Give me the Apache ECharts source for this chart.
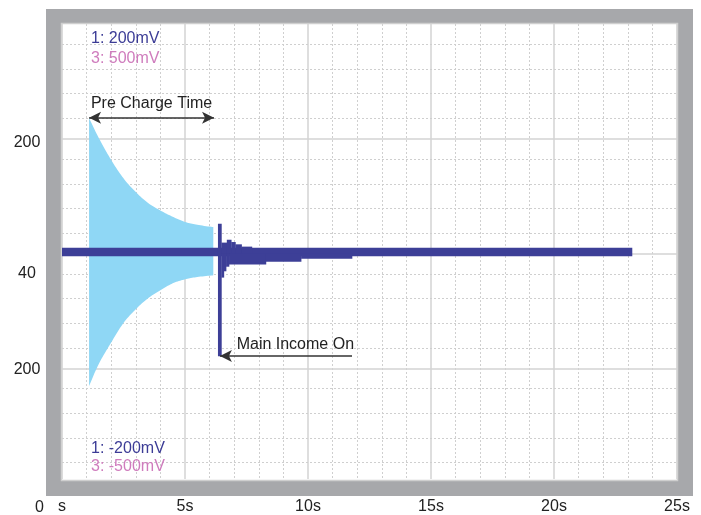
<!DOCTYPE html>
<html><head><meta charset="utf-8">
<script src="https://cdn.jsdelivr.net/npm/echarts@6/dist/echarts.min.js"></script>
<style>html,body{margin:0;padding:0;background:#fff}#c{width:701px;height:515px}</style>
</head><body><div id="c"></div>
<script>
// ---- axis labels ----
const xTickValues = [0, 5, 10, 15, 20, 25];
const xTickLabels = ['s', '5s', '10s', '15s', '20s', '25s'];
const xOriginLabel = '0';
const yTickValues = [194, -35, -203];
const yTickLabels = ['200', '40', '200'];
const ch1Scale = ['1: 200mV', '1: -200mV'];
const ch3Scale = ['3: 500mV', '3: -500mV'];

// ---- channel 3 envelope (light blue) ----
const envT  = [1.1, 1.5, 2.0, 2.5, 3.0, 3.5, 4.0, 4.5, 5.0, 5.5, 6.15];
const envHi = [236, 201, 163, 131, 107, 88, 75, 64, 55, 50, 46];
const envLo = [-231, -192, -155, -121, -97, -78, -64, -52, -45, -41, -38];

// ---- channel 1 (dark blue) ----
const ch1BandT = [0, 23.17];
const ch1BandV = [-4.7, 9.9];
const spikeT = [6.34, 6.48];
const spikeV = [-179, 52];
const ringUpT = [6.48, 6.70, 6.88, 7.05, 7.30, 7.72];
const ringUpV = [19, 24, 20, 16, 12];
const ringLoT = [6.48, 6.58, 6.67, 6.79, 8.29, 9.72, 11.79];
const ringLoV = [-42, -31, -23, -19, -14.4, -9.2];

// ---- annotations ----
const preChargeT = [1.1, 6.18], preChargeV = 236.5, preChargeText = 'Pre Charge Time';
const mainOnT = [6.42, 11.79], mainOnV = -178.6, mainOnText = 'Main Income On';

const FONT = '"Liberation Sans", Arial, Helvetica, sans-serif';
const C1 = '#3d3f97', C3 = '#8fd7f5';

// rects for ch1: [t0, t1, vLow, vHigh]
const ch1Rects = [[ch1BandT[0], ch1BandT[1], ch1BandV[0], ch1BandV[1]],
                  [spikeT[0], spikeT[1], spikeV[0], spikeV[1]]];
ringUpV.forEach((v, i) => ch1Rects.push([ringUpT[i], ringUpT[i + 1], 0, v]));
ringLoV.forEach((v, i) => ch1Rects.push([ringLoT[i], ringLoT[i + 1], v, 0]));

// smooth a pixel polyline (Catmull-Rom) for drawing only
function smoothPts(p) {
  const out = [];
  for (let i = 0; i < p.length - 1; i++) {
    const p0 = p[Math.max(i - 1, 0)], p1 = p[i], p2 = p[i + 1], p3 = p[Math.min(i + 2, p.length - 1)];
    for (let s = 0; s < 10; s++) {
      const u = s / 10, u2 = u * u, u3 = u2 * u;
      const f = k => 0.5 * (2 * p1[k] + (-p0[k] + p2[k]) * u + (2 * p0[k] - 5 * p1[k] + 4 * p2[k] - p3[k]) * u2 + (-p0[k] + 3 * p1[k] - 3 * p2[k] + p3[k]) * u3);
      out.push([f(0), f(1)]);
    }
  }
  out.push(p[p.length - 1]);
  return out;
}

// horizontal grid (oscilloscope style)
const hSolid = [-200, 0, 200];
const hDotted = [];
[-2, -1, 0, 1].forEach(k => [35.7, 78.5, 121.4, 164.3].forEach(o => hDotted.push(k * 200 + o)));

const chart = echarts.init(document.getElementById('c'));
chart.setOption({
  animation: false,
  backgroundColor: '#fff',
  textStyle: { fontFamily: FONT },
  grid: { left: 62, top: 24, width: 615, height: 456 },
  xAxis: {
    type: 'value', min: 0, max: 25, interval: 5,
    axisLine: { show: false }, axisTick: { show: false },
    minorTick: { show: false, splitNumber: 5 },
    splitLine: { show: true, lineStyle: { color: '#d3d3d3', width: 1.5 } },
    minorSplitLine: { show: true, lineStyle: { color: '#cfcfcf', width: 1, type: [2, 2] } },
    axisLabel: { fontSize: 16, color: '#222', margin: 20, fontFamily: FONT,
      formatter: v => { const i = xTickValues.indexOf(v); return i >= 0 ? xTickLabels[i] : ''; } }
  },
  yAxis: {
    type: 'value', min: -393, max: 400,
    axisLine: { show: false }, axisTick: { show: false }, splitLine: { show: false },
    axisLabel: { customValues: yTickValues, fontSize: 16, color: '#222', align: 'center', margin: 35, fontFamily: FONT,
      formatter: v => { const i = yTickValues.indexOf(v); return i >= 0 ? yTickLabels[i] : ''; } }
  },
  graphic: [
    { type: 'rect', z: -10, shape: { x: 46, y: 9, width: 647, height: 487 }, style: { fill: '#a7a8ab' } },
    { type: 'rect', z: -9, shape: { x: 61.5, y: 23.5, width: 616, height: 457 }, style: { fill: '#ffffff', stroke: '#cfcfcf', lineWidth: 1.5 } },
    { type: 'text', z: 10, x: 91, y: 38.5, style: { text: ch1Scale[0], fill: '#3c3c96', fontSize: 16, fontFamily: FONT, verticalAlign: 'middle' } },
    { type: 'text', z: 10, x: 91, y: 58.5, style: { text: ch3Scale[0], fill: '#cf7cbd', fontSize: 16, fontFamily: FONT, verticalAlign: 'middle' } },
    { type: 'text', z: 10, x: 91, y: 448.5, style: { text: ch1Scale[1], fill: '#3c3c96', fontSize: 16, fontFamily: FONT, verticalAlign: 'middle' } },
    { type: 'text', z: 10, x: 91, y: 467, style: { text: ch3Scale[1], fill: '#cf7cbd', fontSize: 16, fontFamily: FONT, verticalAlign: 'middle' } },
    { type: 'text', z: 10, x: 39.5, y: 508, style: { text: xOriginLabel, fill: '#222', fontSize: 16, fontFamily: FONT, align: 'center', verticalAlign: 'middle' } }
  ],
  series: [
    { // horizontal grid lines
      type: 'line', z: 1, data: [[0, 0]], symbol: 'none', lineStyle: { opacity: 0 }, silent: true,
      markLine: { z: 1, silent: true, symbol: 'none', label: { show: false }, animation: false,
        data: hSolid.map(v => ({ yAxis: v, lineStyle: { color: '#d3d3d3', width: 1.5, type: 'solid' } }))
          .concat(hDotted.map(v => ({ yAxis: v, lineStyle: { color: '#cfcfcf', width: 1, type: [2, 2] } }))) }
    },
    { // channel 3 envelope
      type: 'custom', z: 3, name: 'ch3',
      data: [[envT[0], envHi[0]]],
      renderItem: (params, api) => {
        const top = smoothPts(envT.map((t, i) => api.coord([t, envHi[i]])));
        const bot = smoothPts(envT.map((t, i) => api.coord([t, envLo[i]]))).reverse();
        return { type: 'polygon', shape: { points: top.concat(bot) }, style: { fill: C3 } };
      }
    },
    { // channel 1
      type: 'custom', z: 4, name: 'ch1',
      data: ch1Rects,
      encode: { x: [0, 1], y: [2, 3] },
      renderItem: (params, api) => {
        const p0 = api.coord([api.value(0), api.value(3)]);
        const p1 = api.coord([api.value(1), api.value(2)]);
        return { type: 'rect', shape: { x: p0[0], y: p0[1], width: p1[0] - p0[0] + 0.3, height: p1[1] - p0[1] }, style: { fill: C1 } };
      }
    },
    { // annotations
      type: 'line', z: 6, data: [[0, 0]], symbol: 'none', lineStyle: { opacity: 0 }, silent: true,
      markLine: { z: 10, silent: true, animation: false,
        lineStyle: { color: '#333', width: 1.5, type: 'solid' },
        label: { color: '#222', fontSize: 16, fontFamily: FONT },
        data: [
          [{ coord: [preChargeT[0], preChargeV], symbol: 'arrow', symbolSize: [9, 12],
             label: { show: true, formatter: preChargeText, position: 'middle', distance: 6 } },
           { coord: [preChargeT[1], preChargeV], symbol: 'arrow', symbolSize: [9, 12] }],
          [{ coord: [mainOnT[0], mainOnV], symbol: 'arrow', symbolSize: [9, 12],
             label: { show: true, formatter: mainOnText, position: 'insideEndTop', distance: [-2, 3] } },
           { coord: [mainOnT[1], mainOnV], symbol: 'none' }]
        ] }
    }
  ]
});
</script></body></html>
